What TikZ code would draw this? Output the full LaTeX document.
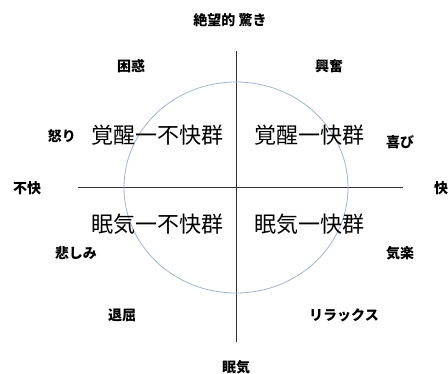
\documentclass[tikz,border=0pt]{standalone}
\usepackage{fontspec}
\newfontfamily\jp{Noto Sans CJK JP}
\definecolor{ringblue}{HTML}{9DB6D1}
\tikzset{
  emo/.style={font=\jp\bfseries\fontsize{14}{14}\selectfont, inner sep=0pt},
  group/.style={font=\jp\fontsize{22}{22}\selectfont, inner sep=0pt},
  axis/.style={line width=1pt, black!80},
}
\begin{document}
\begin{tikzpicture}[x=1pt,y=-1pt]
    \useasboundingbox (0,0) rectangle (448,374);

    % axes
    \coordinate (top) at (236,51);
    \coordinate (bottom) at (236,342);
    \coordinate (left) at (78,188);
    \coordinate (right) at (403,188);
    \draw[axis] (top) -- (bottom);
    \draw[axis] (left) -- (right);

    % circle
    \coordinate (c) at (236,187.5);
    \draw[ringblue, line width=0.8pt] (c) ellipse [x radius=112, y radius=105.5];

    % axis ends
    \node[emo] (arousal) at (230,20) {絶望的 驚き};
    \node[emo] (sleepy) at (236,367) {眠気};
    \node[emo] (unpleasant) at (27,188) {不快};
    \node[emo] (pleasant) at (441,188) {快};

    % emotions, upper half
    \node[emo] (puzzled) at (131,66) {困惑};
    \node[emo] (excited) at (329,66) {興奮};
    \node[emo] (angry) at (62,136) {怒り};
    \node[emo] (joy) at (400,142) {喜び};

    % emotions, lower half
    \node[emo] (sad) at (76,253) {悲しみ};
    \node[emo] (easy) at (400,253) {気楽};
    \node[emo] (bored) at (122,315) {退屈};
    \node[emo] (relax) at (344,315) {リラックス};

    % groups
    \node[group] (au) at (158,135) {覚醒一不快群};
    \node[group] (ap) at (309,135) {覚醒一快群};
    \node[group] (su) at (158,224) {眠気一不快群};
    \node[group] (sp) at (309,224) {眠気一快群};
\end{tikzpicture}
\end{document}
